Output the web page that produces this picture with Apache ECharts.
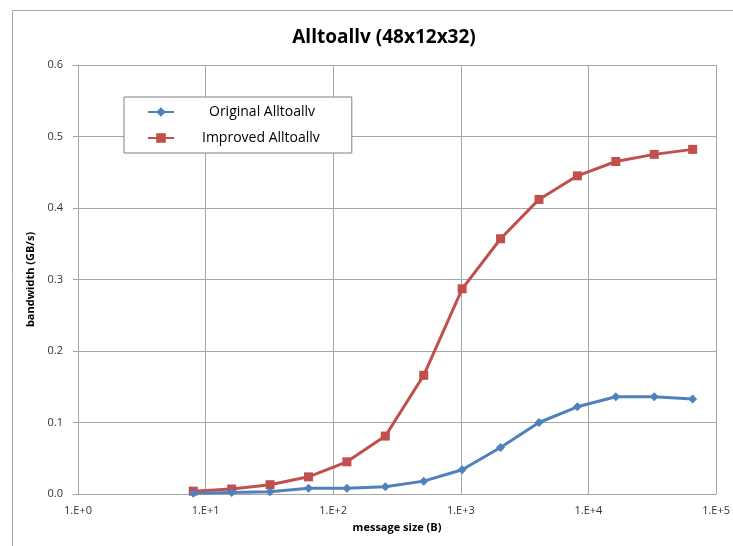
<!DOCTYPE html>
<html>
<head>
<meta charset="utf-8">
<script src="https://cdn.jsdelivr.net/npm/echarts@6/dist/echarts.min.js"></script>
<style>
  html, body { margin: 0; padding: 0; background: #fff; }
  #chart { width: 733px; height: 546px; }
</style>
</head>
<body>
<div id="chart"></div>
<script>
// message sizes (B)
var sizes = [8, 16, 32, 64, 128, 256, 512, 1024, 2048, 4096, 8192, 16384, 32768, 65536];
var original = [0.001, 0.002, 0.003, 0.008, 0.008, 0.010, 0.018, 0.034, 0.065, 0.100, 0.122, 0.136, 0.136, 0.133];
var improved = [0.004, 0.007, 0.013, 0.024, 0.045, 0.081, 0.166, 0.287, 0.357, 0.412, 0.445, 0.465, 0.475, 0.482];
var seriesNames = ["Original Alltoallv", "Improved Alltoallv"];
var colors = ["#4f81bd", "#c0504d"];

var font = "'Open Sans', 'Liberation Sans', sans-serif";

function pairs(vals) {
  var out = [];
  for (var i = 0; i < sizes.length; i++) {
    out.push([sizes[i], vals[i]]);
  }
  return out;
}

var myChart = echarts.init(document.getElementById("chart"));
var options = {
  animation: false,
  backgroundColor: "#fff",
  title: {
    text: "Alltoallv (48x12x32)",
    left: 379,
    textAlign: "center",
    top: 23,
    textStyle: {
      fontFamily: font,
      fontSize: 19,
      fontWeight: "bold",
      color: "#000"
    }
  },
  graphic: [
    {
      type: "rect",
      shape: { x: 12.5, y: 10.5, width: 800, height: 600 },
      style: { fill: "none", stroke: "#a6a6a6", lineWidth: 1 },
      silent: true
    }
  ],
  legend: {
    left: 124,
    top: 97,
    orient: "vertical",
    padding: [8, 32, 8, 23],
    itemGap: 12,
    itemWidth: 26,
    itemHeight: 12,
    borderColor: "#7f7f7f",
    borderWidth: 1,
    backgroundColor: "#fff",
    textStyle: {
      fontFamily: font,
      fontSize: 14,
      color: "#000"
    },
    data: [
      { name: seriesNames[0], textStyle: { padding: [0, 0, 0, 30] } },
      { name: seriesNames[1], textStyle: { padding: [0, 0, 0, 23] } }
    ]
  },
  grid: {
    left: 78,
    right: 16,
    top: 65,
    bottom: 52,
    containLabel: false
  },
  xAxis: {
    type: "log",
    logBase: 10,
    min: 1,
    max: 100000,
    name: "message size (B)",
    nameLocation: "middle",
    nameGap: 28,
    nameTextStyle: {
      fontFamily: font,
      fontSize: 11,
      fontWeight: "bold",
      color: "#000"
    },
    axisLine: { lineStyle: { color: "#a6a6a6" } },
    axisTick: { show: false },
    axisLabel: {
      fontFamily: font,
      fontSize: 11,
      color: "#333",
      margin: 11,
      formatter: function (v) {
        return "1.E+" + Math.round(Math.log10(v));
      }
    },
    splitLine: { show: true, lineStyle: { color: "#a6a6a6" } },
    minorTick: { show: false },
    minorSplitLine: { show: false }
  },
  yAxis: {
    type: "value",
    min: 0,
    max: 0.6,
    interval: 0.1,
    name: "bandwidth (GB/s)",
    nameLocation: "middle",
    nameGap: 38,
    nameTextStyle: {
      fontFamily: font,
      fontSize: 11,
      fontWeight: "bold",
      color: "#000"
    },
    axisLine: { show: true, lineStyle: { color: "#a6a6a6" } },
    axisTick: { show: true, length: 5, lineStyle: { color: "#a6a6a6" } },
    axisLabel: {
      fontFamily: font,
      fontSize: 11,
      color: "#333",
      margin: 15,
      formatter: function (v) {
        return v.toFixed(1);
      }
    },
    splitLine: { lineStyle: { color: "#a6a6a6" } }
  },
  series: [
    {
      name: seriesNames[0],
      type: "line",
      data: pairs(original),
      symbol: "diamond",
      symbolSize: 9,
      color: colors[0],
      lineStyle: { width: 3, color: colors[0] },
      itemStyle: { color: colors[0] },
      z: 3
    },
    {
      name: seriesNames[1],
      type: "line",
      data: pairs(improved),
      symbol: "rect",
      symbolSize: 9,
      color: colors[1],
      lineStyle: { width: 3, color: colors[1] },
      itemStyle: { color: colors[1] },
      z: 2
    }
  ]
};
myChart.setOption(options);
window.addEventListener("resize", function () {
  myChart.resize();
});
</script>
</body>
</html>
